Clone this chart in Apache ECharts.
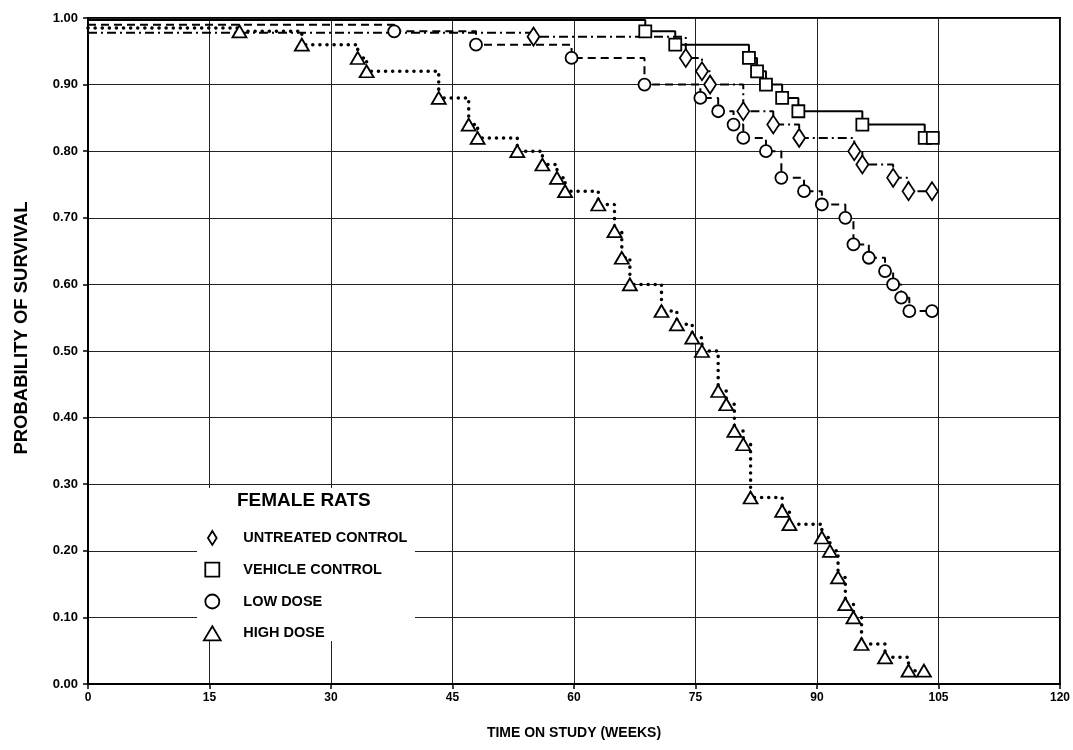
<!DOCTYPE html>
<html>
<head>
<meta charset="utf-8">
<script src="https://cdn.jsdelivr.net/npm/echarts@6/dist/echarts.min.js"></script>
<style>html,body{margin:0;padding:0;background:#fff}#c{width:1073px;height:750px}</style>
</head>
<body>
<div id="c"></div>
<script>
// ---- data (weeks, survival probability) ----
const xTickLabels = ['0','15','30','45','60','75','90','105','120'];
const yTickLabels = ['0.00','0.10','0.20','0.30','0.40','0.50','0.60','0.70','0.80','0.90','1.00'];
const seriesNames = ['UNTREATED CONTROL','VEHICLE CONTROL','LOW DOSE','HIGH DOSE'];

const untreatedWeeks = [0, 55.0, 73.8, 75.8, 76.8, 80.9, 84.6, 87.8, 94.6, 95.6, 99.4, 101.3, 104.2];
const untreatedSurv  = [0.978, 0.972, 0.94, 0.92, 0.90, 0.86, 0.84, 0.82, 0.80, 0.78, 0.76, 0.74, 0.74];

const vehicleWeeks = [0, 68.8, 72.5, 81.6, 82.6, 83.7, 85.7, 87.7, 95.6, 103.3, 104.3];
const vehicleSurv  = [0.997, 0.98, 0.96, 0.94, 0.92, 0.90, 0.88, 0.86, 0.84, 0.82, 0.82];

const lowWeeks = [0, 37.8, 47.9, 59.7, 68.7, 75.6, 77.8, 79.7, 80.9, 83.7, 85.6, 88.4, 90.6, 93.5, 94.5, 96.4, 98.4, 99.4, 100.4, 101.4, 104.2];
const lowSurv  = [0.99, 0.98, 0.96, 0.94, 0.90, 0.88, 0.86, 0.84, 0.82, 0.80, 0.76, 0.74, 0.72, 0.70, 0.66, 0.64, 0.62, 0.60, 0.58, 0.56, 0.56];

const highWeeks = [0, 18.7, 26.4, 33.3, 34.4, 43.3, 47.0, 48.1, 53.0, 56.1, 57.9, 58.9, 63.0, 65.0, 65.9, 66.9, 70.8, 72.7, 74.6, 75.8, 77.8, 78.8, 79.8, 80.9, 81.8, 85.7, 86.6, 90.6, 91.6, 92.6, 93.5, 94.5, 95.5, 98.4, 101.3, 103.2];
const highSurv  = [0.985, 0.98, 0.96, 0.94, 0.92, 0.88, 0.84, 0.82, 0.80, 0.78, 0.76, 0.74, 0.72, 0.68, 0.64, 0.60, 0.56, 0.54, 0.52, 0.50, 0.44, 0.42, 0.38, 0.36, 0.28, 0.26, 0.24, 0.22, 0.20, 0.16, 0.12, 0.10, 0.06, 0.04, 0.02, 0.02];

// ---- build ----
function build(w, s) {
  return w.map((t, i) => i === 0 ? { value: [t, s[i]], symbol: 'none' } : [t, s[i]]);
}
const diamondPath = 'path://M5,0L10,8L5,16L0,8Z';
const squarePath = 'path://M0,0L10,0L10,10L0,10Z';
const circlePath = 'path://M5,0A5,5 0 1 1 5,10A5,5 0 1 1 5,0Z';
const trianglePath = 'path://M6,0L12,10L0,10Z';
const markStyle = { color: '#fff', borderColor: '#000', borderWidth: 1.8 };

function mkSeries(name, data, symbol, size, lineType, lineWidth, cap) {
  return {
    name, type: 'line', step: 'end', data,
    symbol, symbolSize: size, showAllSymbol: true, symbolKeepAspect: false,
    lineStyle: { color: '#000', width: lineWidth, type: lineType, cap: cap || 'butt' },
    itemStyle: markStyle,
    emphasis: { disabled: true }, silent: true, animation: false
  };
}

const chart = echarts.init(document.getElementById('c'), null, { renderer: 'canvas' });
const option = {
  animation: false,
  backgroundColor: '#fff',
  title: {
    text: 'FEMALE RATS', left: 237, top: 491, padding: 0,
    textStyle: { color: '#000', fontSize: 19, fontWeight: 'bold', fontFamily: 'Liberation Sans' }
  },
  legend: {
    orient: 'vertical', left: 203, top: 530, padding: 0,
    itemWidth: 52, itemHeight: 14, itemGap: 16, selectedMode: false,
    data: [
      { name: seriesNames[0], icon: diamondPath },
      { name: seriesNames[1], icon: squarePath },
      { name: seriesNames[2], icon: circlePath },
      { name: seriesNames[3], icon: trianglePath }
    ],
    itemStyle: markStyle,
    textStyle: { color: '#000', fontSize: 14.5, fontWeight: 'bold', fontFamily: 'Liberation Sans' }
  },
  graphic: [
    {
      type: 'rect', z: 1, silent: true,
      shape: { x: 197, y: 488, width: 218, height: 153 },
      style: { fill: '#fff' }
    },
    {
      type: 'text', z: 5, silent: true, x: 22, y: 328, rotation: Math.PI / 2,
      style: {
        text: 'PROBABILITY OF SURVIVAL', align: 'center', verticalAlign: 'middle',
        fill: '#000', font: 'bold 18.5px "Liberation Sans"'
      }
    }
  ],
  grid: { left: 88, right: 11, top: 18, bottom: 66, show: true, borderColor: '#000', borderWidth: 2 },
  xAxis: {
    type: 'value', min: 0, max: 120, interval: 15,
    axisLine: { show: true, lineStyle: { color: '#000', width: 2 } },
    axisTick: { show: true, length: 5, lineStyle: { color: '#000', width: 1.5 } },
    splitLine: { show: true, lineStyle: { color: '#222', width: 1 } },
    axisLabel: {
      margin: 8, color: '#000', fontSize: 12, fontWeight: 'bold',
      fontFamily: 'Liberation Sans Narrow, Liberation Sans, sans-serif',
      formatter: v => xTickLabels[Math.round(v / 15)]
    },
    name: 'TIME ON STUDY (WEEKS)', nameLocation: 'middle', nameGap: 42,
    nameTextStyle: { color: '#000', fontSize: 14, fontWeight: 'bold', fontFamily: 'Liberation Sans Narrow, Liberation Sans, sans-serif' }
  },
  yAxis: {
    type: 'value', min: 0, max: 1, interval: 0.1,
    axisLine: { show: true, lineStyle: { color: '#000', width: 2 } },
    axisTick: { show: true, length: 5, lineStyle: { color: '#000', width: 1.5 } },
    splitLine: { show: true, lineStyle: { color: '#222', width: 1 } },
    axisLabel: {
      margin: 10, color: '#000', fontSize: 13, fontWeight: 'bold', fontFamily: 'Liberation Sans',
      formatter: v => yTickLabels[Math.round(v * 10)]
    }
  },
  series: [
    mkSeries(seriesNames[0], build(untreatedWeeks, untreatedSurv), diamondPath, [12, 18], [9, 4, 2, 4], 2),
    mkSeries(seriesNames[1], build(vehicleWeeks, vehicleSurv), 'rect', 12, 'solid', 2),
    mkSeries(seriesNames[2], build(lowWeeks, lowSurv), 'circle', 12, [8, 5], 2),
    mkSeries(seriesNames[3], build(highWeeks, highSurv), 'triangle', [14, 12], [0.1, 7], 3.5, 'round')
  ]
};
chart.setOption(option);
</script>
</body>
</html>
